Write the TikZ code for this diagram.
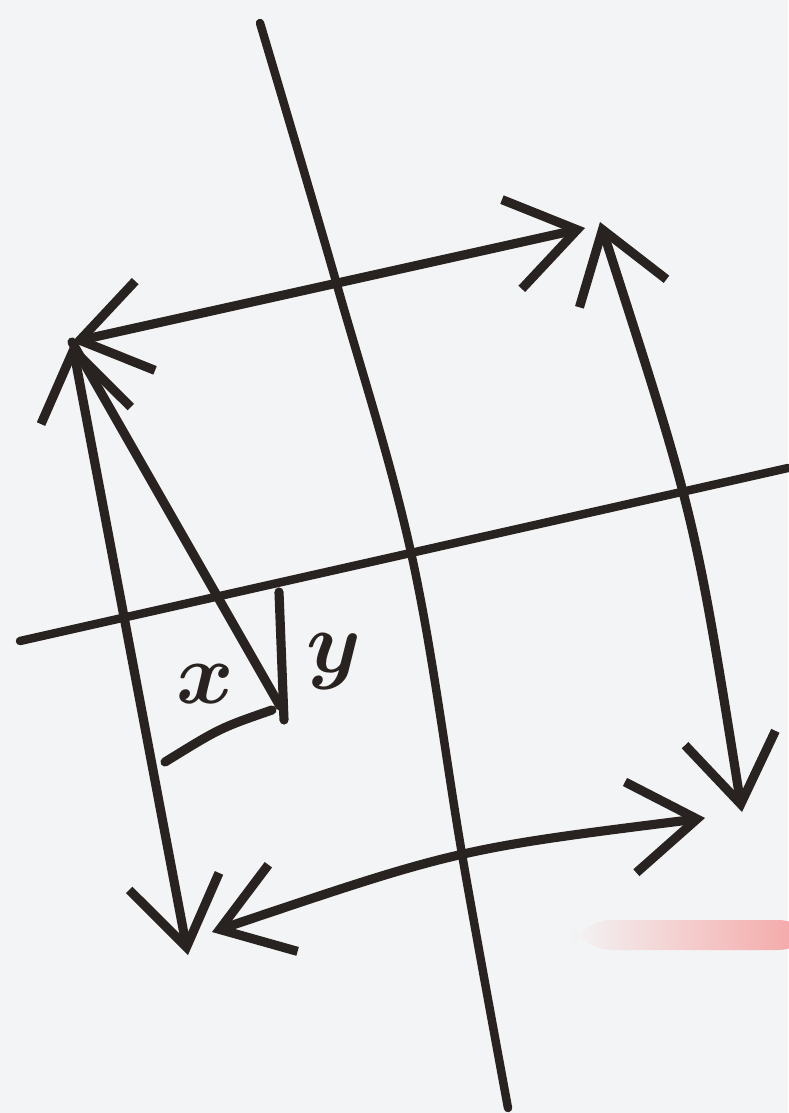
\documentclass[tikz,border=0pt]{standalone}
\usetikzlibrary{arrows.meta}
\definecolor{ink}{RGB}{40,34,32}
\definecolor{paper}{RGB}{243,244,245}
\definecolor{smudge}{RGB}{240,120,120}
\begin{document}
\begin{tikzpicture}[x=0.01cm,y=-0.01cm,
  pen/.style={draw=ink,line width=2.6pt,line cap=round,line join=round},
  axisline/.style={pen,line width=2.4pt},
  dbl/.style={pen,{Straight Barb[length=19pt,width=26pt]}-{Straight Barb[length=19pt,width=26pt]}},
  lbl/.style={text=ink,font=\fontsize{34}{34}\selectfont\boldmath}]
% paper
\fill[paper] (0,0) rectangle (788,1113);
\useasboundingbox (0,0) rectangle (788,1113);
% red pencil smudge
\shade[left color=paper,right color=smudge!70,rounded corners=12] (570,920) rectangle (820,950);
% coordinates
\coordinate (vt) at (260,23);
\coordinate (v1) at (337,285);
\coordinate (v2) at (412,557);
\coordinate (v3) at (463,860);
\coordinate (vb) at (508,1108);
\coordinate (hl) at (20,641);
\coordinate (hr) at (788,468);
\coordinate (A) at (72,342);
\coordinate (Bt) at (585,228);
\coordinate (Br) at (600,222);
\coordinate (C) at (742,812);
\coordinate (D) at (188,955);
\coordinate (L) at (212,932);
\coordinate (R) at (705,818);
\coordinate (P) at (280,706);
\coordinate (yt) at (279,592);
\coordinate (yb) at (284,720);
\coordinate (xl) at (165,762);
\coordinate (xr) at (272,710);
% axes
\draw[axisline] plot[smooth,tension=0.6] coordinates {(vt) (v1) (v2) (v3) (vb)};
\draw[axisline] (hl) -- (hr);
% arrow rectangle
\draw[dbl] (Bt) -- (A);
\draw[dbl] (A) -- (D);
\draw[dbl] (Br) .. controls (695,517) .. (C);
\draw[dbl] (L) .. controls (458,849) .. (R);
% vector and components
\draw[pen] (P) -- (A);
\draw[pen] (yt) -- (yb);
\draw[pen] (xr) .. controls (220,728) .. (xl);
% labels
\node[lbl] (xlab) at (205,684) {$x$};
\node[lbl] (ylab) at (334,662) {$y$};
\end{tikzpicture}
\end{document}
